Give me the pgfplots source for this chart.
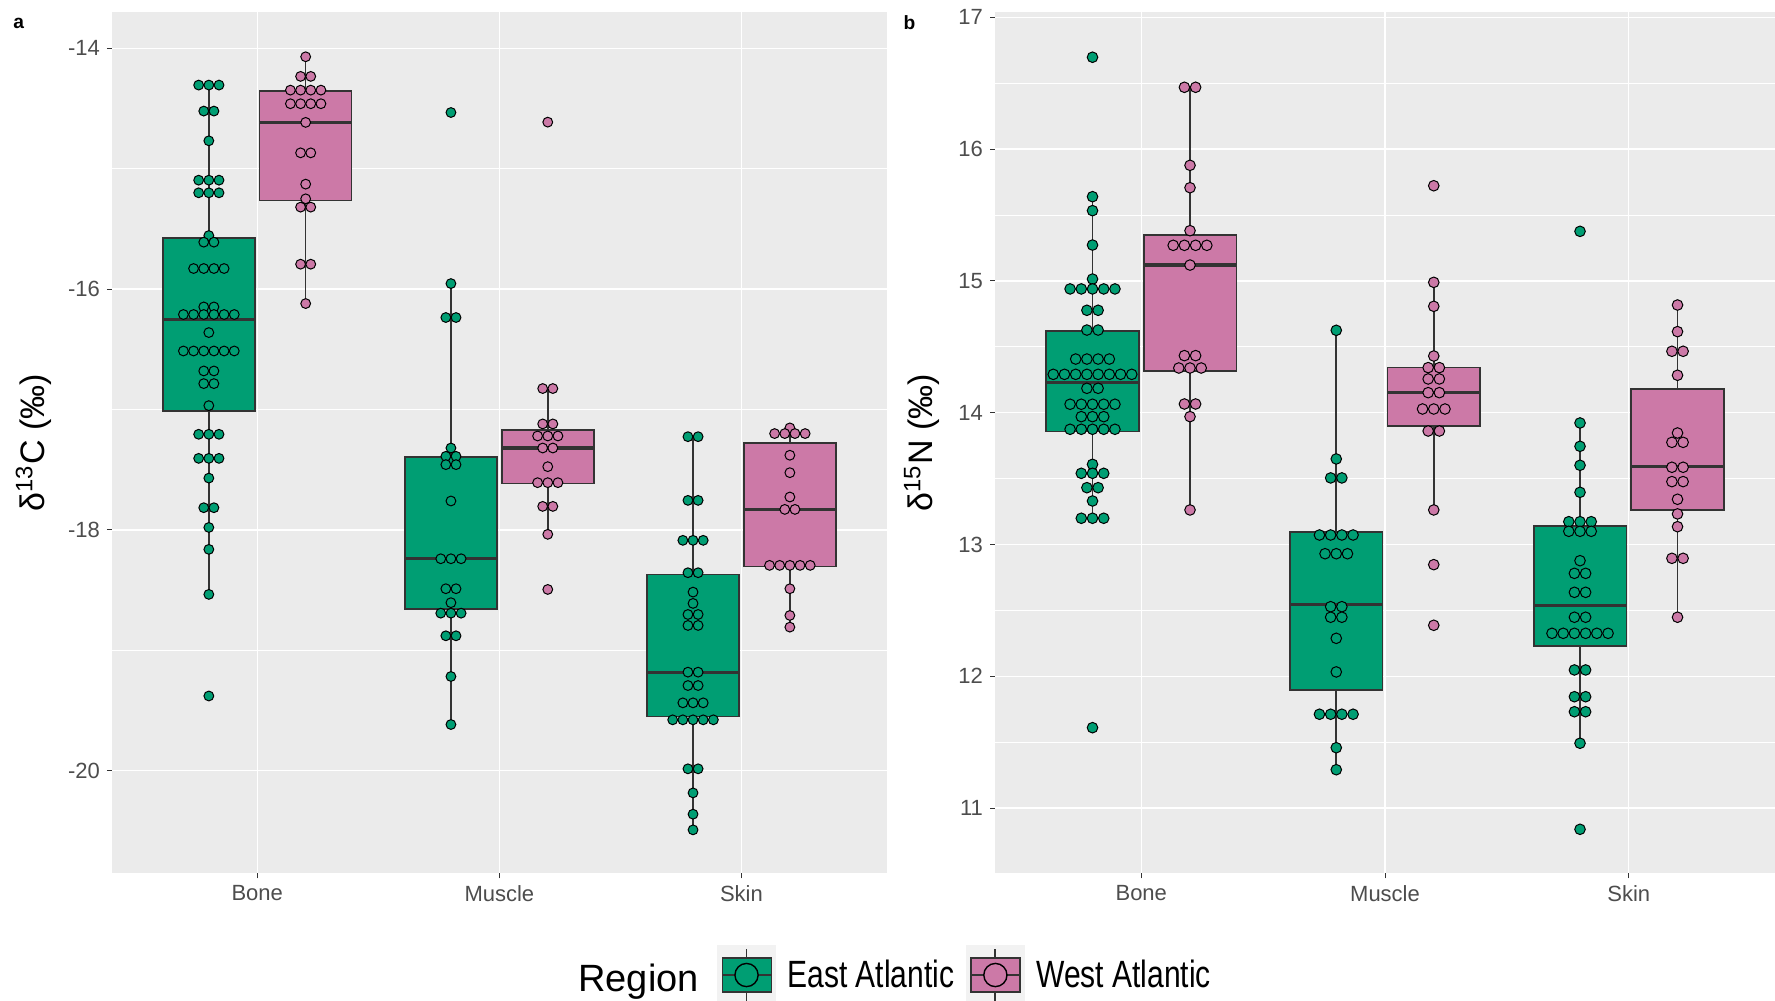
\documentclass[border=0pt]{standalone}
\usepackage{fontspec}
\setmainfont{Liberation Sans}
\newfontfamily\legfont[FakeStretch=0.79]{Liberation Sans}
\usepackage{pgfplots}
\pgfplotsset{compat=1.18}
\usepgfplotslibrary{statistics}
\definecolor{eastc}{HTML}{009E73}
\definecolor{westc}{HTML}{CC79A7}
\definecolor{panelbg}{HTML}{EBEBEB}
\definecolor{g20}{HTML}{333333}
\definecolor{g30}{HTML}{4D4D4D}
\definecolor{keybg}{HTML}{F2F2F2}

\pgfplotsset{
 ggbase/.style={
  scale only axis,
  axis background/.style={fill=panelbg},
  axis lines*=left, axis line style={draw=none},
  tick align=outside, major tick length=2.5pt, minor tick length=0pt,
  tick style={g20, line width=0.5pt},
  grid=both, major grid style={white, line width=0.7pt}, minor grid style={white, line width=0.35pt},
  xmin=0.4, xmax=3.6, xtick={1,2,3}, xticklabels={Bone,Muscle,Skin},
  ticklabel style={font=\fontsize{11}{13}\selectfont, text=g30},
  /pgf/number format/assume math mode=true,
  ylabel style={font=\fontsize{17}{20}\selectfont, anchor=center},
  boxplot/draw direction=y,
  boxplot/every median/.style={line width=1.6pt},
 },
 bx/.style={draw=g20, line width=0.8pt, fill=#1, solid},
 dta/.style={only marks, mark=*, mark size=2.45pt, mark options={fill=#1, draw=black, line width=0.5pt}},
 dtb/.style={only marks, mark=*, mark size=2.65pt, mark options={fill=#1, draw=black, line width=0.5pt}},
 keyglyph/.style={legend image code/.code={
   \fill[keybg] (0pt,-15pt) rectangle (29pt,15pt);
   \draw[g20, line width=0.9pt] (14.5pt,-13pt) -- (14.5pt,13pt);
   \draw[g20, line width=0.9pt, fill=#1] (2.5pt,-8.35pt) rectangle (27pt,8.35pt);
   \draw[g20, line width=1.2pt] (2.5pt,0pt) -- (27pt,0pt);
   \draw[black, line width=0.7pt, fill=#1] (14.5pt,0pt) circle (5.8pt);
 }},
}

\begin{document}
\begin{tikzpicture}
\path[use as bounding box] (0pt,0pt) rectangle (887.5pt,-500pt);

% ---------------- Panel a ----------------
\begin{axis}[ggbase,
  at={(56pt,-6pt)}, anchor=north west,
  width=387.35pt, height=430.65pt,
  ymin=-20.853, ymax=-13.698,
  ytick={-20,-18,-16,-14}, yticklabels={-20,-18,-16,-14},
  minor ytick={-19,-17,-15},
  ylabel={δ\textsuperscript{13}C (‰)},
  ylabel style={at={(axis description cs:-0.101,0.5)}},
  legend style={at={(axis description cs:0.7806,-0.1181)}, anchor=west, draw=none, fill=none,
    inner sep=0pt, legend columns=-1, font=\legfont\fontsize{19}{22}\selectfont,
    nodes={inner sep=0pt},
    /tikz/every odd column/.append style={column sep=5.8pt},
    /tikz/every even column/.append style={column sep=5.8pt}},
  legend cell align=left,
]
\addlegendimage{keyglyph=eastc}
\addlegendentry{East Atlantic}
\addlegendimage{keyglyph=westc}
\addlegendentry{West Atlantic}

% boxes
\addplot[bx=eastc, boxplot prepared={draw position=0.8, lower whisker=-18.536, lower quartile=-17.015, median=-16.253, upper quartile=-15.574, upper whisker=-14.305, box extend=0.38, whisker extend=0}] coordinates {};
\addplot[bx=westc, boxplot prepared={draw position=1.2, lower whisker=-16.120, lower quartile=-15.264, median=-14.615, upper quartile=-14.352, upper whisker=-14.070, box extend=0.38, whisker extend=0}] coordinates {};
\addplot[bx=eastc, boxplot prepared={draw position=1.8, lower whisker=-19.617, lower quartile=-18.655, median=-18.240, upper quartile=-17.395, upper whisker=-15.954, box extend=0.38, whisker extend=0}] coordinates {};
\addplot[bx=westc, boxplot prepared={draw position=2.2, lower whisker=-18.037, lower quartile=-17.616, median=-17.320, upper quartile=-17.168, upper whisker=-16.826, box extend=0.38, whisker extend=0}] coordinates {};
\addplot[bx=eastc, boxplot prepared={draw position=2.8, lower whisker=-20.492, lower quartile=-19.550, median=-19.182, upper quartile=-18.372, upper whisker=-17.226, box extend=0.38, whisker extend=0}] coordinates {};
\addplot[bx=westc, boxplot prepared={draw position=3.2, lower whisker=-18.808, lower quartile=-18.303, median=-17.830, upper quartile=-17.278, upper whisker=-17.153, box extend=0.38, whisker extend=0}] coordinates {};

% dots: Bone East
\addplot[dta=eastc] coordinates {
(0.758,-14.305)(0.8,-14.305)(0.842,-14.305)
(0.779,-14.521)(0.821,-14.521)
(0.8,-14.768)
(0.758,-15.095)(0.8,-15.095)(0.842,-15.095)
(0.758,-15.200)(0.8,-15.200)(0.842,-15.200)
(0.8,-15.555)
(0.779,-15.610)(0.821,-15.610)
(0.737,-15.829)(0.779,-15.829)(0.821,-15.829)(0.863,-15.829)
(0.779,-16.148)(0.821,-16.148)
(0.695,-16.211)(0.737,-16.211)(0.779,-16.211)(0.821,-16.211)(0.863,-16.211)(0.905,-16.211)
(0.8,-16.361)
(0.695,-16.514)(0.737,-16.514)(0.779,-16.514)(0.821,-16.514)(0.863,-16.514)(0.905,-16.514)
(0.779,-16.680)(0.821,-16.680)
(0.779,-16.785)(0.821,-16.785)
(0.8,-16.968)
(0.758,-17.206)(0.8,-17.206)(0.842,-17.206)
(0.758,-17.406)(0.8,-17.406)(0.842,-17.406)
(0.8,-17.570)
(0.779,-17.816)(0.821,-17.816)
(0.8,-17.980)
(0.8,-18.162)
(0.8,-18.536)
(0.8,-19.380)
};
% Bone West
\addplot[dta=westc] coordinates {
(1.2,-14.070)
(1.179,-14.233)(1.221,-14.233)
(1.137,-14.347)(1.179,-14.347)(1.221,-14.347)(1.263,-14.347)
(1.137,-14.460)(1.179,-14.460)(1.221,-14.460)(1.263,-14.460)
(1.2,-14.615)
(1.179,-14.868)(1.221,-14.868)
(1.2,-15.128)
(1.2,-15.250)
(1.179,-15.319)(1.221,-15.319)
(1.179,-15.793)(1.221,-15.793)
(1.2,-16.120)
};
% Muscle East
\addplot[dta=eastc] coordinates {
(1.8,-14.533)
(1.8,-15.954)
(1.779,-16.236)(1.821,-16.236)
(1.8,-17.320)
(1.779,-17.389)(1.821,-17.389)
(1.779,-17.458)(1.821,-17.458)
(1.8,-17.760)
(1.758,-18.240)(1.8,-18.240)(1.842,-18.240)
(1.779,-18.489)(1.821,-18.489)
(1.8,-18.605)
(1.758,-18.692)(1.8,-18.692)(1.842,-18.692)
(1.779,-18.880)(1.821,-18.880)
(1.8,-19.218)
(1.8,-19.617)
};
% Muscle West
\addplot[dta=westc] coordinates {
(2.2,-14.613)
(2.179,-16.826)(2.221,-16.826)
(2.179,-17.120)(2.221,-17.120)
(2.158,-17.220)(2.2,-17.220)(2.242,-17.220)
(2.179,-17.320)(2.221,-17.320)
(2.2,-17.475)
(2.158,-17.608)(2.2,-17.608)(2.242,-17.608)
(2.179,-17.805)(2.221,-17.805)
(2.2,-18.037)
(2.2,-18.495)
};
% Skin East
\addplot[dta=eastc] coordinates {
(2.779,-17.226)(2.821,-17.226)
(2.779,-17.755)(2.821,-17.755)
(2.758,-18.087)(2.8,-18.087)(2.842,-18.087)
(2.779,-18.356)(2.821,-18.356)
(2.8,-18.517)
(2.8,-18.611)
(2.779,-18.703)(2.821,-18.703)
(2.779,-18.794)(2.821,-18.794)
(2.779,-19.182)(2.821,-19.182)
(2.779,-19.293)(2.821,-19.293)
(2.758,-19.437)(2.8,-19.437)(2.842,-19.437)
(2.716,-19.578)(2.758,-19.578)(2.8,-19.578)(2.842,-19.578)(2.884,-19.578)
(2.779,-19.985)(2.821,-19.985)
(2.8,-20.185)
(2.8,-20.362)
(2.8,-20.492)
};
% Skin West
\addplot[dta=westc] coordinates {
(3.2,-17.153)
(3.137,-17.200)(3.179,-17.200)(3.221,-17.200)(3.263,-17.200)
(3.2,-17.380)
(3.2,-17.525)
(3.2,-17.727)
(3.179,-17.830)(3.221,-17.830)
(3.116,-18.295)(3.158,-18.295)(3.2,-18.295)(3.242,-18.295)(3.284,-18.295)
(3.2,-18.489)
(3.2,-18.711)
(3.2,-18.808)
};
\end{axis}

% ---------------- Panel b ----------------
\begin{axis}[ggbase,
  at={(497.5pt,-6.15pt)}, anchor=north west,
  width=390pt, height=430.5pt,
  ymin=10.505, ymax=17.038,
  ytick={11,12,13,14,15,16,17}, yticklabels={11,12,13,14,15,16,17},
  minor ytick={11.5,12.5,13.5,14.5,15.5,16.5},
  ylabel={δ\textsuperscript{15}N (‰)},
  ylabel style={at={(axis description cs:-0.0936,0.5)}},
]
\addplot[bx=eastc, boxplot prepared={draw position=0.8, lower whisker=13.199, lower quartile=13.856, median=14.228, upper quartile=14.620, upper whisker=15.639, box extend=0.38, whisker extend=0}] coordinates {};
\addplot[bx=westc, boxplot prepared={draw position=1.2, lower whisker=13.262, lower quartile=14.316, median=15.120, upper quartile=15.346, upper whisker=16.469, box extend=0.38, whisker extend=0}] coordinates {};
\addplot[bx=eastc, boxplot prepared={draw position=1.8, lower whisker=11.291, lower quartile=11.896, median=12.546, upper quartile=13.097, upper whisker=14.625, box extend=0.38, whisker extend=0}] coordinates {};
\addplot[bx=westc, boxplot prepared={draw position=2.2, lower whisker=13.262, lower quartile=13.899, median=14.152, upper quartile=14.342, upper whisker=14.989, box extend=0.38, whisker extend=0}] coordinates {};
\addplot[bx=eastc, boxplot prepared={draw position=2.8, lower whisker=11.492, lower quartile=12.232, median=12.536, upper quartile=13.138, upper whisker=13.922, box extend=0.38, whisker extend=0}] coordinates {};
\addplot[bx=westc, boxplot prepared={draw position=3.2, lower whisker=12.448, lower quartile=13.262, median=13.590, upper quartile=14.178, upper whisker=14.817, box extend=0.38, whisker extend=0}] coordinates {};

% Bone East
\addplot[dtb=eastc] coordinates {
(0.8,16.697)
(0.8,15.639)
(0.8,15.533)
(0.8,15.272)
(0.8,15.014)
(0.708,14.939)(0.754,14.939)(0.8,14.939)(0.846,14.939)(0.892,14.939)
(0.777,14.777)(0.823,14.777)
(0.777,14.627)(0.823,14.627)
(0.731,14.407)(0.777,14.407)(0.823,14.407)(0.869,14.407)
(0.639,14.291)(0.685,14.291)(0.731,14.291)(0.777,14.291)(0.823,14.291)(0.869,14.291)(0.915,14.291)(0.961,14.291)
(0.777,14.185)(0.823,14.185)
(0.708,14.064)(0.754,14.064)(0.8,14.064)(0.846,14.064)(0.892,14.064)
(0.754,13.970)(0.8,13.970)(0.846,13.970)
(0.708,13.874)(0.754,13.874)(0.8,13.874)(0.846,13.874)(0.892,13.874)
(0.8,13.608)
(0.754,13.540)(0.8,13.540)(0.846,13.540)
(0.777,13.431)(0.823,13.431)
(0.8,13.330)
(0.754,13.199)(0.8,13.199)(0.846,13.199)
(0.8,11.610)
};
% Bone West
\addplot[dtb=westc] coordinates {
(1.177,16.469)(1.223,16.469)
(1.2,15.877)
(1.2,15.707)
(1.2,15.381)
(1.131,15.270)(1.177,15.270)(1.223,15.270)(1.269,15.270)
(1.2,15.120)
(1.177,14.433)(1.223,14.433)
(1.154,14.339)(1.2,14.339)(1.246,14.339)
(1.177,14.066)(1.223,14.066)
(1.2,13.970)
(1.2,13.262)
};
% Muscle East
\addplot[dtb=eastc] coordinates {
(1.8,14.625)
(1.8,13.649)
(1.777,13.505)(1.823,13.505)
(1.731,13.072)(1.777,13.072)(1.823,13.072)(1.869,13.072)
(1.754,12.930)(1.8,12.930)(1.846,12.930)
(1.777,12.528)(1.823,12.528)
(1.777,12.448)(1.823,12.448)
(1.8,12.288)
(1.8,12.033)
(1.731,11.712)(1.777,11.712)(1.823,11.712)(1.869,11.712)
(1.8,11.458)
(1.8,11.291)
};
% Muscle West
\addplot[dtb=westc] coordinates {
(2.2,15.722)
(2.2,14.989)
(2.2,14.807)
(2.2,14.430)
(2.177,14.342)(2.223,14.342)
(2.177,14.256)(2.223,14.256)
(2.177,14.152)(2.223,14.152)
(2.154,14.028)(2.2,14.028)(2.246,14.028)
(2.177,13.861)(2.223,13.861)
(2.2,13.262)
(2.2,12.847)
(2.2,12.387)
};
% Skin East
\addplot[dtb=eastc] coordinates {
(2.8,15.376)
(2.8,13.922)
(2.8,13.745)
(2.8,13.601)
(2.8,13.396)
(2.754,13.173)(2.8,13.173)(2.846,13.173)
(2.754,13.100)(2.8,13.100)(2.846,13.100)
(2.8,12.877)
(2.777,12.781)(2.823,12.781)
(2.777,12.637)(2.823,12.637)
(2.777,12.448)(2.823,12.448)
(2.685,12.326)(2.731,12.326)(2.777,12.326)(2.823,12.326)(2.869,12.326)(2.915,12.326)
(2.777,12.048)(2.823,12.048)
(2.777,11.845)(2.823,11.845)
(2.777,11.731)(2.823,11.731)
(2.8,11.492)
(2.8,10.839)
};
% Skin West
\addplot[dtb=westc] coordinates {
(3.2,14.817)
(3.2,14.615)
(3.177,14.466)(3.223,14.466)
(3.2,14.284)
(3.2,13.846)
(3.177,13.775)(3.223,13.775)
(3.177,13.586)(3.223,13.586)
(3.177,13.477)(3.223,13.477)
(3.2,13.343)
(3.2,13.232)
(3.2,13.135)
(3.177,12.895)(3.223,12.895)
(3.2,12.448)
};
\end{axis}

\node[font=\bfseries\fontsize{9.6}{11}\selectfont] at (9.35pt,-11.75pt) {a};
\node[font=\bfseries\fontsize{9.6}{11}\selectfont] at (454.75pt,-11.25pt) {b};
\node[anchor=base west, inner sep=0pt, font=\fontsize{19}{22}\selectfont] at (289pt,-495.85pt) {Region};
\end{tikzpicture}
\end{document}
